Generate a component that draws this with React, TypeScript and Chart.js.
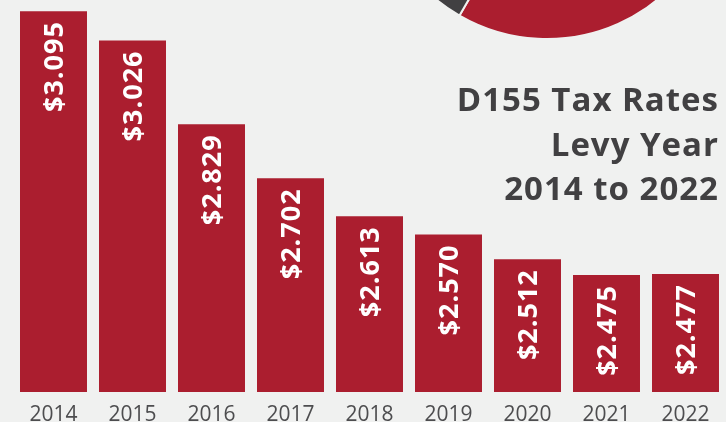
import React, { useEffect, useRef } from "react";
import { Chart, registerables } from "chart.js";

Chart.register(...registerables);

// ---- data ----
const years = ["2014", "2015", "2016", "2017", "2018", "2019", "2020", "2021", "2022"];
const taxRates = [3.095, 3.026, 2.829, 2.702, 2.613, 2.57, 2.512, 2.475, 2.477];
const rateLabels = ["$3.095", "$3.026", "$2.829", "$2.702", "$2.613", "$2.570", "$2.512", "$2.475", "$2.477"];
const titleLines = ["D155 Tax Rates", "Levy Year", "2014 to 2022"];
const pieShares = [80, 20];
const yMin = 2.2;
const yMax = 3.1;

// ---- styles ----
const RED = "#AB1E2F";
const DARK = "#414042";
const BG = "#F0F1F0";
const FONT = "'Open Sans', 'Noto Sans', sans-serif";

const valueLabelPlugin = {
  id: "valueLabels",
  afterDatasetsDraw(chart: any) {
    const ctx = chart.ctx as CanvasRenderingContext2D;
    const meta = chart.getDatasetMeta(0);
    ctx.save();
    ctx.fillStyle = "#FFFFFF";
    ctx.font = `700 27px ${FONT}`;
    ctx.textAlign = "right";
    ctx.textBaseline = "alphabetic";
    (ctx as any).letterSpacing = "1px";
    meta.data.forEach((bar: any, i: number) => {
      const { x, y } = bar.getProps(["x", "y"], true);
      ctx.save();
      ctx.translate(x + 9.5, y + 10);
      ctx.rotate(-Math.PI / 2);
      ctx.fillText(rateLabels[i], 0, 0);
      ctx.restore();
    });
    ctx.restore();
  },
};

export default function App() {
  const barRef = useRef<HTMLCanvasElement | null>(null);
  const pieRef = useRef<HTMLCanvasElement | null>(null);

  useEffect(() => {
    if (!barRef.current || !pieRef.current) return;
    const bar = new Chart(barRef.current, {
      type: "bar",
      data: {
        labels: years,
        datasets: [
          {
            data: taxRates,
            backgroundColor: RED,
            borderWidth: 0,
            categoryPercentage: 1,
            barPercentage: 0.848,
          },
        ],
      },
      options: {
        animation: false,
        responsive: false,
        events: [],
        layout: { padding: { left: 14, right: 1, top: 9, bottom: 0 } },
        plugins: { legend: { display: false }, tooltip: { enabled: false }, title: { display: false } },
        scales: {
          y: { display: false, min: yMin, max: yMax },
          x: {
            grid: { display: false, drawTicks: false },
            border: { display: false },
            ticks: {
              color: "#4D4D4F",
              padding: 10,
              font: { family: FONT, size: 21, weight: "400" as any },
            },
            afterFit: (scale: any) => {
              scale.height = 30;
            },
          },
        },
      },
      plugins: [valueLabelPlugin],
    } as any);

    const pie = new Chart(pieRef.current, {
      type: "pie",
      data: {
        datasets: [
          {
            data: pieShares,
            backgroundColor: [RED, DARK],
            borderColor: BG,
            borderWidth: 2,
          },
        ],
      },
      options: {
        animation: false,
        responsive: false,
        events: [],
        rotation: -78,
        radius: 175,
        plugins: { legend: { display: false }, tooltip: { enabled: false } },
      },
    } as any);

    return () => {
      bar.destroy();
      pie.destroy();
    };
  }, []);

  return (
    <div
      style={{
        position: "fixed",
        left: 0,
        top: 0,
        width: 726,
        height: 422,
        overflow: "hidden",
        background: BG,
      }}
    >
      <canvas ref={pieRef} width={360} height={360} style={{ position: "absolute", left: 367, top: -316 }} />
      <canvas ref={barRef} width={726} height={422} style={{ position: "absolute", left: 0, top: 0 }} />
      <div
        style={{
          position: "absolute",
          right: 7,
          top: 77,
          textAlign: "right",
          fontFamily: FONT,
          fontWeight: 700,
          fontSize: 33,
          letterSpacing: "1px",
          lineHeight: "44.5px",
          color: DARK,
          whiteSpace: "nowrap",
        }}
      >
        {titleLines.map((t) => (
          <div key={t}>{t}</div>
        ))}
      </div>
    </div>
  );
}
